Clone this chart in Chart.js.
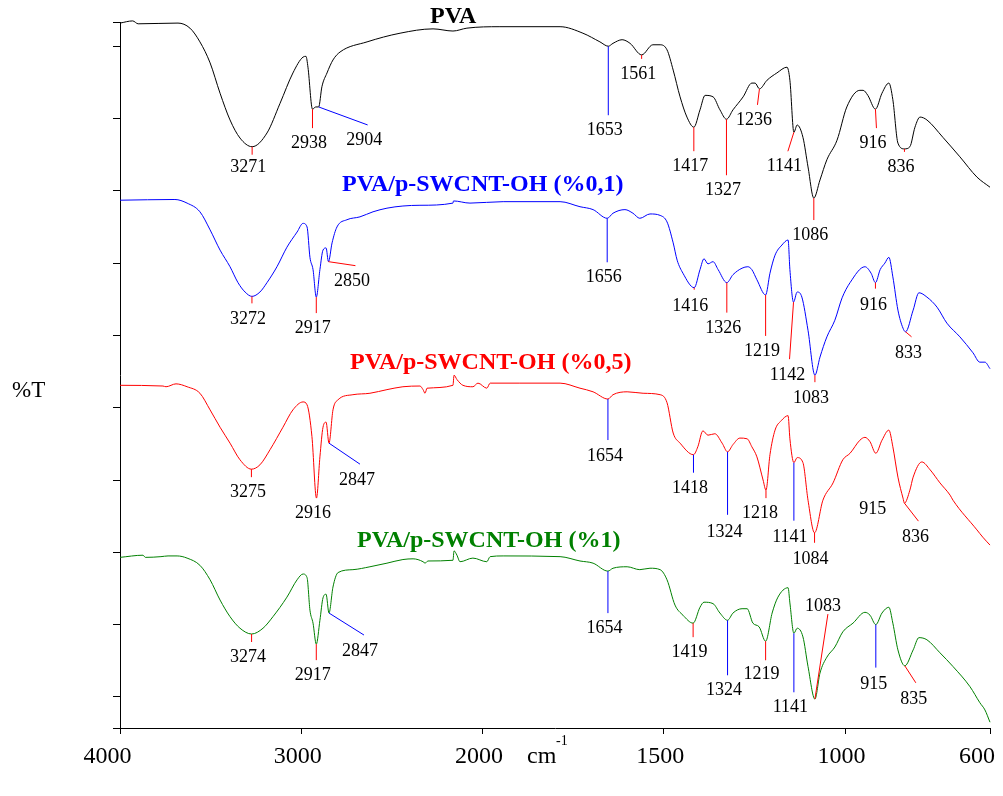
<!DOCTYPE html>
<html>
<head>
<meta charset="utf-8">
<script src="https://cdn.jsdelivr.net/npm/chart.js@4.4.1/dist/chart.umd.min.js"></script>
<style>
  html, body { margin: 0; padding: 0; background: #fff; }
  canvas { display: block; }
</style>
</head>
<body>
<canvas id="ftir" width="1003" height="796"></canvas>
<script>
// FTIR spectra of PVA and PVA/p-SWCNT-OH films, stacked %T (offset units)
const xTicks = [4000, 3000, 2000, 1500, 1000, 600];
const yTicks = [0, 4.3, 14.3, 24.3, 34.3, 44.3, 54.3, 64.3, 74.3, 84.3, 94.3, 97.65];
const seriesNames = ['PVA', 'PVA/p-SWCNT-OH (%0,1)', 'PVA/p-SWCNT-OH (%0,5)', 'PVA/p-SWCNT-OH (%1)'];
const seriesColors = ['#000000', '#0000ff', '#ff0000', '#008000'];

// PVA
const pvaWn = [4000, 3930, 3900, 3680, 3614, 3559, 3503, 3448, 3393, 3338, 3271, 3189, 3117, 3046, 2990, 2974, 2963,
  2938, 2920, 2904, 2886, 2858, 2825, 2786, 2637, 2455, 2273, 2163, 2086, 1952, 1786, 1723, 1676, 1653, 1640, 1615,
  1593, 1561, 1530, 1510, 1491, 1474, 1455, 1436, 1417, 1400, 1386, 1364, 1345, 1327, 1309, 1281, 1257, 1248, 1236,
  1215, 1188, 1160, 1152, 1141, 1132, 1116, 1102, 1086, 1069, 1050, 1022, 995, 959, 950, 937, 916, 898, 879, 868,
  854, 836, 821, 807, 793, 774, 730, 683, 636, 600];
const pvaT = [97.5, 97.8, 97.4, 97.5, 96.8, 94.9, 92.0, 87.8, 84.1, 81.6, 80.4, 82.3, 86.4, 90.6, 92.8, 92.9, 91.4,
  85.6, 85.9, 85.9, 88.7, 90.6, 92.4, 93.5, 94.9, 96.1, 96.7, 96.4, 96.8, 97.0, 97.0, 96.1, 94.9, 94.3, 94.7, 95.2,
  94.7, 93.1, 94.5, 94.5, 93.8, 91.0, 87.3, 84.5, 83.1, 85.5, 87.5, 87.3, 85.5, 84.2, 85.5, 87.3, 89.2, 89.2, 88.4,
  89.6, 90.6, 91.4, 89.6, 82.4, 83.4, 81.7, 77.6, 73.3, 75.8, 78.6, 81.3, 85.9, 88.2, 88.2, 87.5, 85.6, 87.8, 89.2, 86.9,
  80.9, 80.1, 80.4, 83.1, 84.5, 84.1, 81.7, 79.0, 76.2, 74.8];

// PVA/p-SWCNT-OH 0.1 %
const lowWn = [4000, 3697, 3630, 3559, 3503, 3448, 3393, 3349, 3310, 3272, 3228, 3189, 3134, 3079, 3023, 2990, 2968,
  2952, 2935, 2917, 2897, 2880, 2863, 2850, 2830, 2803, 2748, 2676, 2604, 2527, 2439, 2345, 2163, 2160, 2069, 1943,
  1786, 1731, 1695, 1656, 1640, 1607, 1585, 1566, 1538, 1510, 1491, 1474, 1463, 1447, 1416, 1400, 1389, 1378, 1364,
  1350, 1326, 1309, 1284, 1268, 1257, 1243, 1219, 1207, 1193, 1174, 1157, 1152, 1142, 1132, 1119, 1102, 1083, 1069,
  1050, 1028, 1008, 986, 945, 928, 916, 903, 890, 879, 868, 854, 840, 833, 812, 796, 774, 746, 719, 683, 647, 628,
  614, 600];
const lowT = [73.0, 73.1, 72.6, 71.4, 68.9, 66.1, 63.8, 61.6, 60.3, 59.7, 60.3, 61.6, 63.8, 66.5, 68.6, 69.8, 69.3,
  65.1, 63.4, 59.6, 63.4, 66.1, 66.4, 64.5, 67.1, 69.3, 70.3, 70.7, 71.4, 71.9, 72.2, 72.3, 72.6, 72.9, 72.6, 72.8,
  72.8, 72.1, 71.7, 70.5, 71.2, 71.7, 71.2, 70.5, 71.1, 70.9, 70.0, 67.1, 64.7, 62.9, 60.9, 63.4, 64.9, 64.2, 64.5,
  63.4, 61.6, 62.7, 63.6, 63.8, 63.4, 62.0, 59.9, 62.9, 65.4, 66.8, 67.5, 63.4, 58.9, 60.3, 59.6, 55.0, 48.8, 51.3,
  54.1, 56.4, 59.5, 61.6, 63.8, 62.9, 61.6, 63.4, 64.3, 65.1, 62.4, 57.8, 55.3, 54.8, 57.8, 60.2, 59.6, 58.2, 56.0,
  54.1, 51.9, 50.6, 50.6, 49.7];

// PVA/p-SWCNT-OH 0.5 %
const midWn = [4000, 3763, 3746, 3691, 3630, 3559, 3503, 3448, 3393, 3338, 3275, 3228, 3172, 3101, 3046, 2990, 2968,
  2941, 2916, 2897, 2880, 2863, 2847, 2825, 2797, 2715, 2621, 2527, 2439, 2345, 2328, 2317, 2306, 2163, 2157, 2141,
  2108, 2053, 2025, 1988, 1979, 1897, 1786, 1731, 1695, 1654, 1640, 1601, 1557, 1510, 1491, 1474, 1455, 1418, 1406,
  1392, 1378, 1359, 1339, 1324, 1309, 1290, 1270, 1257, 1243, 1226, 1218, 1207, 1193, 1176, 1157, 1152, 1141, 1132,
  1116, 1102, 1084, 1061, 1033, 1006, 986, 959, 945, 931, 915, 898, 879, 868, 854, 840, 836, 821, 812, 788, 765, 738,
  710, 702, 636, 620, 600];
const midT = [47.4, 47.3, 47.2, 47.6, 47.2, 46.3, 44.0, 41.6, 39.4, 37.1, 35.8, 36.4, 38.5, 41.6, 44.0, 45.1, 44.7,
  40.3, 31.8, 37.5, 41.6, 42.3, 39.4, 44.0, 45.4, 46.1, 46.3, 46.8, 47.2, 47.3, 46.8, 46.3, 47.0, 47.4, 48.8, 48.2,
  47.4, 47.2, 47.7, 47.0, 47.7, 47.7, 47.7, 47.0, 46.5, 45.5, 46.1, 46.5, 46.3, 46.1, 45.0, 40.8, 39.4, 37.8, 38.9,
  41.1, 40.5, 40.7, 39.4, 38.2, 39.2, 40.1, 40.0, 38.9, 37.5, 34.3, 32.9, 37.8, 41.2, 42.5, 43.2, 40.0, 36.7, 37.4,
  36.7, 31.5, 27.0, 31.5, 33.9, 37.1, 38.0, 39.8, 40.2, 39.6, 38.0, 39.8, 41.2, 38.9, 34.7, 31.8, 31.1, 32.9, 34.7,
  36.8, 35.7, 33.9, 32.2, 31.5, 27.4, 26.4, 25.3];

// PVA/p-SWCNT-OH 1 %
const highWn = [4000, 3873, 3860, 3774, 3735, 3685, 3630, 3559, 3503, 3448, 3393, 3338, 3274, 3211, 3156, 3079, 3023,
  2990, 2968, 2952, 2935, 2917, 2897, 2880, 2863, 2847, 2825, 2797, 2715, 2621, 2527, 2439, 2383, 2328, 2317, 2301,
  2163, 2157, 2141, 2124, 2053, 1988, 1979, 1943, 1786, 1731, 1695, 1654, 1640, 1601, 1566, 1538, 1510, 1491, 1469,
  1447, 1419, 1400, 1389, 1364, 1345, 1324, 1309, 1284, 1270, 1254, 1237, 1219, 1201, 1185, 1157, 1152, 1141, 1132,
  1116, 1102, 1083, 1069, 1050, 1028, 1006, 978, 945, 931, 915, 898, 879, 868, 854, 835, 812, 796, 774, 738, 702, 655,
  628, 614, 600];
const highT = [23.6, 23.9, 23.6, 23.7, 23.8, 23.8, 23.5, 22.5, 20.5, 17.7, 15.4, 13.8, 13.0, 13.8, 15.4, 18.1, 20.5,
  21.3, 20.8, 16.3, 14.5, 11.6, 14.9, 18.0, 18.5, 15.9, 19.5, 21.5, 21.9, 22.3, 22.8, 23.3, 23.4, 23.0, 22.8, 23.1,
  23.2, 24.5, 23.9, 23.0, 23.5, 23.0, 23.7, 23.8, 23.7, 23.1, 22.8, 21.7, 22.1, 22.3, 21.9, 22.1, 21.9, 20.5, 17.0,
  15.6, 14.5, 16.7, 17.4, 17.2, 15.9, 14.9, 15.9, 16.5, 16.5, 14.5, 14.0, 12.0, 15.9, 18.1, 19.4, 17.3, 13.1, 13.8,
  12.6, 8.5, 4.0, 7.6, 9.8, 11.2, 13.3, 14.5, 16.0, 15.6, 14.3, 15.9, 16.7, 14.5, 10.8, 8.6, 10.8, 12.5, 12.2, 10.4,
  8.5, 5.7, 3.5, 2.5, 0.8];

// labelled band positions, cm-1
const pvaPeaks = [3271, 2938, 2904, 1653, 1561, 1417, 1327, 1236, 1141, 1086, 916, 836];
const lowPeaks = [3272, 2917, 2850, 1656, 1416, 1326, 1219, 1142, 1083, 916, 833];
const midPeaks = [3275, 2916, 2847, 1654, 1418, 1324, 1218, 1141, 1084, 915, 836];
const highPeaks = [3274, 2917, 2847, 1654, 1419, 1324, 1219, 1141, 1083, 915, 835];

// leader lines: colour, dx, dy (px from the band), optional label offset from the line end
const pvaLeaders = [['r', 0, 8, -4, 11], ['r', 0, 19], ['b', 49, 18], ['b', 0, 69], ['r', 0, 4], ['r', 0, 24],
  ['r', 0, 56], ['r', -2, 16], ['r', -6, 19], ['r', 0, 22], ['r', 1, 19], ['r', 0, 3]];
const lowLeaders = [['r', 0, 7, -4, 15], ['r', 0, 16], ['r', 27, 4], ['b', 0, 44], ['r', 0, 2, -4, 15], ['r', 0, 30],
  ['r', 0, 41], ['r', -4, 57, -2, 15], ['r', 0, 7, -4, 15], ['r', 0, 6, -2, 15], ['r', 6, 5, -3, 15]];
const midLeaders = [['r', 0, 8], ['r', 0, 0], ['b', 31, 21, -3, 15], ['b', 0, 41, -3, 15], ['b', 0, 18],
  ['b', 0, 63, -3, 16], ['r', 0, 8, -6, 14], ['b', 0, 58, -4, 15], ['r', 0, 10, -4, 15], ['r', 0, 0, -3, 55],
  ['r', 14, 18, -3, 15]];
const highLeaders = [['r', 0, 8], ['r', 0, 16], ['b', 35, 22, -4, 15], ['b', 0, 42], ['r', 0, 14], ['b', 0, 55],
  ['r', 0, 19, -4, 13], ['b', 0, 59], ['r', 13, -85, -5, -9], ['b', 0, 43, -2, 15], ['r', 11, 17, -2, 15]];

// series title anchors (left x, baseline)
const titleAt = [[430, 23], [342, 191], [350, 369], [357, 547]];
// x tick label nudges (the end labels sit inside the frame)
const xLabelShift = [-12.5, -3.5, -3.5, -3.5, -3.5, -13];

const spectra = [
  { wn: pvaWn, t: pvaT, peaks: pvaPeaks, leaders: pvaLeaders },
  { wn: lowWn, t: lowT, peaks: lowPeaks, leaders: lowLeaders },
  { wn: midWn, t: midT, peaks: midPeaks, leaders: midLeaders },
  { wn: highWn, t: highT, peaks: highPeaks, leaders: highLeaders }
];

// wavenumber axis with a 2x expansion below 2000 cm-1
function axisFraction(wn) {
  const u = wn >= 2000 ? (4000 - wn) / 2 : 1000 + (2000 - wn);
  return u / 2400;
}
class WavenumberScale extends Chart.LinearScale {
  getPixelForValue(value) {
    return this.getPixelForDecimal(axisFraction(value));
  }
}
WavenumberScale.id = 'wavenumber';
WavenumberScale.defaults = Chart.LinearScale.defaults;
Chart.register(WavenumberScale);

const SERIF = '"Liberation Serif", "Times New Roman", serif';
const leaderColor = { r: '#ff0000', b: '#0000ff' };

// band labels, series titles and axis captions
const annotations = {
  id: 'annotations',
  afterDraw(chart) {
    const { ctx } = chart;
    const xs = chart.scales.x, ys = chart.scales.y;
    ctx.save();
    ctx.lineWidth = 1;
    ctx.textAlign = 'center';
    ctx.textBaseline = 'alphabetic';
    ctx.fillStyle = '#000';
    ctx.font = '18px ' + SERIF;
    spectra.forEach(s => {
      s.peaks.forEach((wn, i) => {
        const [c, dx, dy, lx = -3.5, ly = 14] = s.leaders[i];
        const px = xs.getPixelForValue(wn);
        const py = ys.getPixelForValue(s.t[s.wn.indexOf(wn)]);
        if (dx || dy) {
          ctx.strokeStyle = leaderColor[c];
          ctx.beginPath();
          ctx.moveTo(px, py);
          ctx.lineTo(px + dx, py + dy);
          ctx.stroke();
        }
        ctx.fillText(String(wn), px + dx + lx, py + dy + ly + 6);
      });
    });

    ctx.textAlign = 'left';
    ctx.font = 'bold 24px ' + SERIF;
    seriesNames.forEach((name, i) => {
      ctx.fillStyle = seriesColors[i];
      ctx.fillText(name, titleAt[i][0], titleAt[i][1]);
    });

    ctx.fillStyle = '#000';
    ctx.textAlign = 'center';
    ctx.font = '24px ' + SERIF;
    xTicks.forEach((v, i) => {
      ctx.fillText(String(v), xs.getPixelForValue(v) + xLabelShift[i], 763);
    });

    ctx.textAlign = 'left';
    ctx.font = '24px ' + SERIF;
    ctx.fillText('cm', 527, 763);
    ctx.font = '14px ' + SERIF;
    ctx.fillText('-1', 556, 745);
    ctx.font = '23px ' + SERIF;
    ctx.fillText('%T', 12, 397);
    ctx.restore();
  }
};

new Chart(document.getElementById('ftir'), {
  type: 'line',
  data: {
    datasets: spectra.map((s, i) => ({
      label: seriesNames[i],
      data: s.wn.map((w, j) => ({ x: w, y: s.t[j] })),
      borderColor: seriesColors[i],
      borderWidth: 1,
      pointRadius: 0,
      fill: false,
      clip: false,
      cubicInterpolationMode: 'monotone'
    }))
  },
  options: {
    responsive: false,
    animation: false,
    events: [],
    layout: { padding: { top: 22, right: 13, left: 0, bottom: 0 } },
    plugins: { legend: { display: false }, tooltip: { enabled: false } },
    scales: {
      x: {
        type: 'wavenumber',
        position: 'bottom',
        min: 600,
        max: 4000,
        afterBuildTicks: s => { s.ticks = xTicks.map(v => ({ value: v })); },
        afterFit: s => { s.height = 68; },
        ticks: { display: false },
        grid: { drawOnChartArea: false, drawTicks: true, tickLength: 6, color: '#000' },
        border: { color: '#000', width: 1 }
      },
      y: {
        min: 0,
        max: 97.65,
        afterBuildTicks: s => { s.ticks = yTicks.map(v => ({ value: v })); },
        afterFit: s => { s.width = 120; },
        ticks: { display: false },
        grid: { drawOnChartArea: false, drawTicks: true, tickLength: 7, color: '#000' },
        border: { color: '#000', width: 1 }
      }
    }
  },
  plugins: [annotations]
});
</script>
</body>
</html>
